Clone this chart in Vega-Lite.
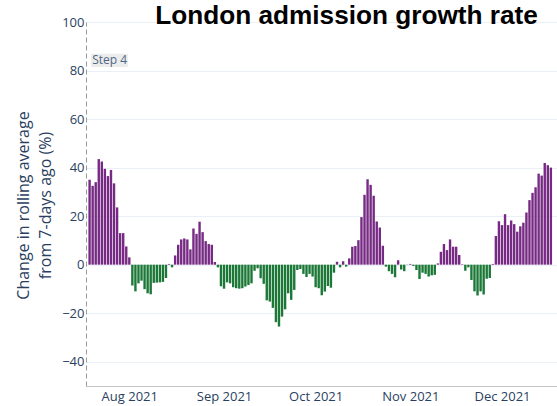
{
  "$schema": "https://vega.github.io/schema/vega-lite/v6.json",
  "width": 471,
  "height": 364,
  "autosize": {"type": "none"},
  "padding": {"left": 86, "top": 22, "right": 0, "bottom": 20},
  "background": "white",
  "config": {"view": {"stroke": null}, "font": "Open Sans"},
  "title": {
    "text": "London admission growth rate",
    "font": "Liberation Sans",
    "fontSize": 26.2,
    "fontWeight": "bold",
    "color": "#000000",
    "anchor": "middle",
    "frame": "group",
    "baseline": "alphabetic",
    "offset": 0,
    "dx": 25,
    "dy": 34
  },
  "layer": [
    {
      "data": {
        "format": {"parse": {"date": "date:'%Y-%m-%d'"}},
        "values": [
          {"date": "2021-07-19", "rate": 35},
          {"date": "2021-07-20", "rate": 32.5},
          {"date": "2021-07-21", "rate": 34},
          {"date": "2021-07-22", "rate": 43.5},
          {"date": "2021-07-23", "rate": 42.5},
          {"date": "2021-07-24", "rate": 39.5},
          {"date": "2021-07-25", "rate": 36.5},
          {"date": "2021-07-26", "rate": 39},
          {"date": "2021-07-27", "rate": 33.5},
          {"date": "2021-07-28", "rate": 23.6},
          {"date": "2021-07-29", "rate": 13},
          {"date": "2021-07-30", "rate": 13},
          {"date": "2021-07-31", "rate": 7.5},
          {"date": "2021-08-01", "rate": 3},
          {"date": "2021-08-02", "rate": -8.6},
          {"date": "2021-08-03", "rate": -11},
          {"date": "2021-08-04", "rate": -7.7},
          {"date": "2021-08-05", "rate": -6.6},
          {"date": "2021-08-06", "rate": -10.1},
          {"date": "2021-08-07", "rate": -11.8},
          {"date": "2021-08-08", "rate": -12.2},
          {"date": "2021-08-09", "rate": -7.5},
          {"date": "2021-08-10", "rate": -7.4},
          {"date": "2021-08-11", "rate": -7.3},
          {"date": "2021-08-12", "rate": -7.1},
          {"date": "2021-08-13", "rate": -5.5},
          {"date": "2021-08-14", "rate": 0.3},
          {"date": "2021-08-15", "rate": -1.1},
          {"date": "2021-08-16", "rate": 3.8},
          {"date": "2021-08-17", "rate": 8.2},
          {"date": "2021-08-18", "rate": 10.4},
          {"date": "2021-08-19", "rate": 10.8},
          {"date": "2021-08-20", "rate": 10.4},
          {"date": "2021-08-21", "rate": 6.3},
          {"date": "2021-08-22", "rate": 14.9},
          {"date": "2021-08-23", "rate": 12.7},
          {"date": "2021-08-24", "rate": 17.7},
          {"date": "2021-08-25", "rate": 13.4},
          {"date": "2021-08-26", "rate": 9.7},
          {"date": "2021-08-27", "rate": 8.5},
          {"date": "2021-08-28", "rate": 8.2},
          {"date": "2021-08-29", "rate": 1.1},
          {"date": "2021-08-30", "rate": -1.1},
          {"date": "2021-08-31", "rate": -8.9},
          {"date": "2021-09-01", "rate": -9.9},
          {"date": "2021-09-02", "rate": -7.3},
          {"date": "2021-09-03", "rate": -7.7},
          {"date": "2021-09-04", "rate": -9.3},
          {"date": "2021-09-05", "rate": -9.7},
          {"date": "2021-09-06", "rate": -9.9},
          {"date": "2021-09-07", "rate": -9.7},
          {"date": "2021-09-08", "rate": -9},
          {"date": "2021-09-09", "rate": -8.4},
          {"date": "2021-09-10", "rate": -7.7},
          {"date": "2021-09-11", "rate": -2.5},
          {"date": "2021-09-12", "rate": -1.5},
          {"date": "2021-09-13", "rate": -5.6},
          {"date": "2021-09-14", "rate": -7.9},
          {"date": "2021-09-15", "rate": -14.7},
          {"date": "2021-09-16", "rate": -15.2},
          {"date": "2021-09-17", "rate": -17.8},
          {"date": "2021-09-18", "rate": -23.7},
          {"date": "2021-09-19", "rate": -25.5},
          {"date": "2021-09-20", "rate": -21.4},
          {"date": "2021-09-21", "rate": -18.4},
          {"date": "2021-09-22", "rate": -11.8},
          {"date": "2021-09-23", "rate": -14.5},
          {"date": "2021-09-24", "rate": -10.4},
          {"date": "2021-09-25", "rate": -2.2},
          {"date": "2021-09-26", "rate": -1.8},
          {"date": "2021-09-27", "rate": -3.8},
          {"date": "2021-09-28", "rate": -5.1},
          {"date": "2021-09-29", "rate": -3.8},
          {"date": "2021-09-30", "rate": -4.9},
          {"date": "2021-10-01", "rate": -9.3},
          {"date": "2021-10-02", "rate": -9.7},
          {"date": "2021-10-03", "rate": -12.6},
          {"date": "2021-10-04", "rate": -11.1},
          {"date": "2021-10-05", "rate": -8.8},
          {"date": "2021-10-06", "rate": -9.5},
          {"date": "2021-10-07", "rate": -3.3},
          {"date": "2021-10-08", "rate": 1.2},
          {"date": "2021-10-09", "rate": -1.1},
          {"date": "2021-10-10", "rate": 1.4},
          {"date": "2021-10-11", "rate": -0.8},
          {"date": "2021-10-12", "rate": 2.6},
          {"date": "2021-10-13", "rate": 7.4},
          {"date": "2021-10-14", "rate": 7.7},
          {"date": "2021-10-15", "rate": 10.1},
          {"date": "2021-10-16", "rate": 19.6},
          {"date": "2021-10-17", "rate": 28.8},
          {"date": "2021-10-18", "rate": 35.2},
          {"date": "2021-10-19", "rate": 32.9},
          {"date": "2021-10-20", "rate": 28.4},
          {"date": "2021-10-21", "rate": 17.8},
          {"date": "2021-10-22", "rate": 15.3},
          {"date": "2021-10-23", "rate": 7.8},
          {"date": "2021-10-24", "rate": -0.8},
          {"date": "2021-10-25", "rate": -2.7},
          {"date": "2021-10-26", "rate": -3.8},
          {"date": "2021-10-27", "rate": -5.2},
          {"date": "2021-10-28", "rate": 1.8},
          {"date": "2021-10-29", "rate": -2},
          {"date": "2021-10-30", "rate": -2.7},
          {"date": "2021-10-31", "rate": -0.1},
          {"date": "2021-11-01", "rate": 0.3},
          {"date": "2021-11-02", "rate": -0.5},
          {"date": "2021-11-03", "rate": -2.2},
          {"date": "2021-11-04", "rate": -5.9},
          {"date": "2021-11-05", "rate": -3.3},
          {"date": "2021-11-06", "rate": -3.8},
          {"date": "2021-11-07", "rate": -4.9},
          {"date": "2021-11-08", "rate": -4.4},
          {"date": "2021-11-09", "rate": -4.2},
          {"date": "2021-11-10", "rate": 0.5},
          {"date": "2021-11-11", "rate": 5.3},
          {"date": "2021-11-12", "rate": 8.5},
          {"date": "2021-11-13", "rate": 6},
          {"date": "2021-11-14", "rate": 10.4},
          {"date": "2021-11-15", "rate": 7.4},
          {"date": "2021-11-16", "rate": 7.4},
          {"date": "2021-11-17", "rate": 4},
          {"date": "2021-11-18", "rate": 0.2},
          {"date": "2021-11-19", "rate": -2.5},
          {"date": "2021-11-20", "rate": -1.1},
          {"date": "2021-11-21", "rate": -6.3},
          {"date": "2021-11-22", "rate": -11},
          {"date": "2021-11-23", "rate": -12.7},
          {"date": "2021-11-24", "rate": -11},
          {"date": "2021-11-25", "rate": -12.3},
          {"date": "2021-11-26", "rate": -5.8},
          {"date": "2021-11-27", "rate": -5.5},
          {"date": "2021-11-28", "rate": 0.3},
          {"date": "2021-11-29", "rate": 11.8},
          {"date": "2021-11-30", "rate": 17.9},
          {"date": "2021-12-01", "rate": 16.3},
          {"date": "2021-12-02", "rate": 20.8},
          {"date": "2021-12-03", "rate": 16.3},
          {"date": "2021-12-04", "rate": 18.2},
          {"date": "2021-12-05", "rate": 16.7},
          {"date": "2021-12-06", "rate": 13.6},
          {"date": "2021-12-07", "rate": 15.8},
          {"date": "2021-12-08", "rate": 17.3},
          {"date": "2021-12-09", "rate": 21.5},
          {"date": "2021-12-10", "rate": 26.6},
          {"date": "2021-12-11", "rate": 29.6},
          {"date": "2021-12-12", "rate": 31.9},
          {"date": "2021-12-13", "rate": 37.5},
          {"date": "2021-12-14", "rate": 36.7},
          {"date": "2021-12-15", "rate": 41.9},
          {"date": "2021-12-16", "rate": 41},
          {"date": "2021-12-17", "rate": 40}
        ]
      },
      "mark": {"type": "bar", "width": 2.4, "clip": true},
      "encoding": {
        "x": {
          "field": "date",
          "type": "temporal",
          "scale": {
            "domain": [
              {"year": 2021, "month": 7, "date": 19, "hours": 11},
              {"year": 2021, "month": 12, "date": 17, "hours": 9}
            ]
          },
          "axis": {
            "title": null,
            "values": [
              {"year": 2021, "month": 8, "date": 1},
              {"year": 2021, "month": 9, "date": 1},
              {"year": 2021, "month": 10, "date": 1},
              {"year": 2021, "month": 11, "date": 1},
              {"year": 2021, "month": 12, "date": 1}
            ],
            "format": "%b %Y",
            "grid": false,
            "ticks": false,
            "domainColor": "#c4c4c4",
            "domainWidth": 1,
            "labelColor": "#2a3f5f",
            "labelFont": "Open Sans",
            "labelFontSize": 13,
            "labelPadding": 4
          }
        },
        "y": {
          "field": "rate",
          "type": "quantitative",
          "scale": {"domain": [-50, 100], "nice": false, "zero": true},
          "axis": {
            "values": [-40, -20, 0, 20, 40, 60, 80, 100],
            "grid": true,
            "gridColor": "#ebf0f8",
            "ticks": false,
            "domain": true,
            "domainColor": "#9a9a9a",
            "domainDash": [5, 3],
            "domainWidth": 1,
            "labelColor": "#2a3f5f",
            "labelFont": "Open Sans",
            "labelFontSize": 13,
            "labelPadding": 2,
            "title": ["Change in rolling average", "from 7-days ago (%)"],
            "titleFont": "Open Sans",
            "titleFontSize": 16,
            "titleFontWeight": "normal",
            "titleColor": "#2a3f5f",
            "titleLineHeight": 22,
            "titleAngle": -90,
            "titleAlign": "center",
            "titleBaseline": "middle",
            "titleX": -63,
            "titleY": 183
          }
        },
        "color": {
          "condition": {"test": "datum.rate > 0", "value": "#762a83"},
          "value": "#1b7837"
        }
      }
    },
    {
      "data": {"values": [{"label": "Step 4"}]},
      "mark": {"type": "rect", "width": 36.7, "height": 13.4, "xOffset": 18.3, "color": "#ececec", "opacity": 1},
      "encoding": {
        "x": {"datum": {"year": 2021, "month": 7, "date": 19, "hours": 12}, "type": "temporal"},
        "y": {"datum": 84.2, "type": "quantitative"}
      }
    },
    {
      "data": {"values": [{"label": "Step 4"}]},
      "mark": {"type": "text", "align": "left", "baseline": "middle", "dx": 1, "fontSize": 12, "font": "Open Sans", "color": "#506784"},
      "encoding": {
        "x": {"datum": {"year": 2021, "month": 7, "date": 19, "hours": 12}, "type": "temporal"},
        "y": {"datum": 84.2, "type": "quantitative"},
        "text": {"field": "label"}
      }
    }
  ]
}
